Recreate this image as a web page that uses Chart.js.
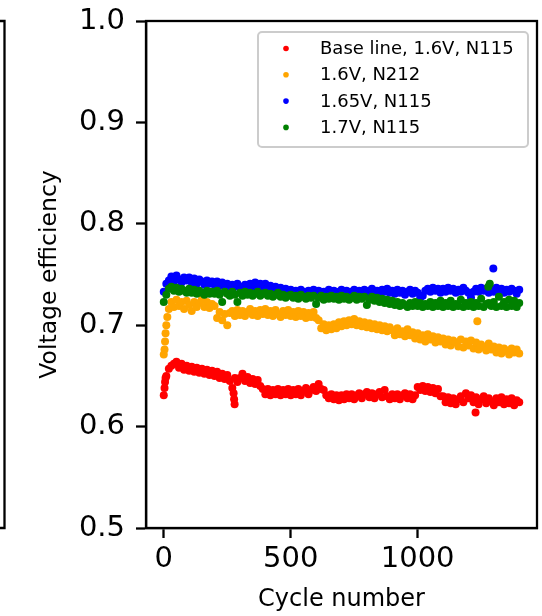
<!DOCTYPE html>
<html><head><meta charset="utf-8">
<script src="https://cdn.jsdelivr.net/npm/chart.js@4/dist/chart.umd.min.js"></script>
<style>html,body{margin:0;padding:0;background:#fff;}#wrap{position:relative;width:542px;height:616px;}</style>
</head><body><div id="wrap"><canvas id="c" width="542" height="616"></canvas></div>
<script>
// ---- data ----
const cycleStep = 10; // values below are sampled every 10 cycles, starting at cycle 0
const seriesLabels = ['Base line, 1.6V, N115', '1.6V, N212', '1.65V, N115', '1.7V, N115'];
const seriesColors = ['#ff0000', '#ffa500', '#0000ff', '#008000'];
const xTicks = [0, 500, 1000];
const yTicks = [0.5, 0.6, 0.7, 0.8, 0.9, 1.0];

const baseLine = [
 0.631,0.650,0.657,0.660,0.662,0.664,0.658,0.662,0.656,0.660,
 0.655,0.659,0.654,0.658,0.653,0.657,0.652,0.656,0.651,0.655,
 0.650,0.654,0.648,0.652,0.647,0.651,0.645,0.638,0.648,0.644,
 0.648,0.652,0.645,0.649,0.643,0.647,0.642,0.646,0.640,0.637,
 0.632,0.637,0.631,0.636,0.632,0.637,0.631,0.636,0.632,0.637,
 0.631,0.636,0.632,0.637,0.631,0.635,0.638,0.632,0.636,0.639,
 0.635,0.642,0.637,0.636,0.631,0.628,0.632,0.627,0.631,0.626,
 0.631,0.627,0.632,0.628,0.632,0.627,0.631,0.633,0.628,0.632,
 0.634,0.629,0.633,0.628,0.632,0.634,0.629,0.636,0.630,0.627,
 0.632,0.628,0.632,0.627,0.631,0.633,0.628,0.632,0.627,0.631,
 0.639,0.636,0.640,0.635,0.639,0.634,0.638,0.633,0.637,0.630,
 0.630,0.624,0.629,0.623,0.628,0.622,0.627,0.630,0.624,0.633,
 0.628,0.631,0.624,0.629,0.622,0.627,0.630,0.623,0.628,0.625,
 0.621,0.628,0.624,0.629,0.622,0.627,0.623,0.628,0.621,0.626,
 0.624];
const baseLineExtra = [[3,0.638],[5,0.644],[7,0.648],[275,0.633],[277,0.627],[279,0.622],[1228,0.614]];

const v160N212 = [
 0.671,0.700,0.716,0.723,0.718,0.725,0.719,0.723,0.716,0.724,
 0.720,0.714,0.723,0.718,0.722,0.725,0.718,0.723,0.717,0.721,
 0.719,0.707,0.713,0.705,0.711,0.700,0.712,0.714,0.709,0.715,
 0.710,0.714,0.709,0.713,0.716,0.710,0.714,0.709,0.715,0.711,
 0.716,0.710,0.714,0.709,0.715,0.711,0.708,0.714,0.710,0.715,
 0.709,0.713,0.708,0.714,0.709,0.713,0.707,0.712,0.708,0.713,
 0.707,0.705,0.697,0.701,0.695,0.700,0.696,0.701,0.697,0.703,
 0.699,0.704,0.700,0.705,0.701,0.706,0.700,0.704,0.699,0.703,
 0.698,0.702,0.697,0.701,0.696,0.700,0.695,0.699,0.694,0.698,
 0.695,0.690,0.697,0.691,0.694,0.689,0.696,0.690,0.693,0.687,
 0.692,0.686,0.690,0.684,0.691,0.686,0.689,0.683,0.688,0.684,
 0.687,0.681,0.686,0.680,0.685,0.683,0.679,0.686,0.678,0.684,
 0.680,0.685,0.677,0.683,0.676,0.681,0.678,0.675,0.682,0.676,
 0.679,0.673,0.678,0.672,0.677,0.675,0.671,0.677,0.673,0.676,
 0.672];
const v160N212Extra = [[3,0.676],[5,0.684],[7,0.692],[14,0.708],[1235,0.704]];

const v165N115 = [
 0.733,0.741,0.744,0.748,0.743,0.749,0.745,0.742,0.747,0.744,
 0.747,0.742,0.746,0.741,0.745,0.743,0.740,0.744,0.741,0.743,
 0.740,0.743,0.739,0.742,0.738,0.741,0.737,0.740,0.738,0.741,
 0.738,0.736,0.740,0.737,0.741,0.738,0.742,0.739,0.741,0.738,
 0.741,0.737,0.739,0.736,0.738,0.735,0.737,0.734,0.736,0.733,
 0.735,0.732,0.734,0.731,0.735,0.733,0.730,0.734,0.732,0.735,
 0.731,0.734,0.730,0.733,0.731,0.735,0.732,0.734,0.730,0.733,
 0.735,0.731,0.734,0.730,0.733,0.735,0.731,0.734,0.732,0.735,
 0.731,0.734,0.736,0.732,0.734,0.731,0.735,0.733,0.736,0.732,
 0.734,0.731,0.735,0.732,0.734,0.730,0.733,0.735,0.731,0.734,
 0.732,0.727,0.729,0.734,0.736,0.733,0.737,0.734,0.736,0.732,
 0.736,0.733,0.737,0.734,0.736,0.732,0.735,0.733,0.737,0.734,
 0.732,0.727,0.733,0.736,0.733,0.737,0.734,0.736,0.732,0.735,
 0.733,0.737,0.734,0.736,0.732,0.735,0.733,0.736,0.734,0.731,
 0.735];
const v165N115Extra = [[1298,0.756]];

const v170N115 = [
 0.723,0.730,0.736,0.738,0.734,0.737,0.733,0.736,0.734,0.732,
 0.736,0.732,0.735,0.731,0.734,0.732,0.730,0.734,0.731,0.733,
 0.731,0.734,0.730,0.723,0.733,0.731,0.729,0.733,0.730,0.723,
 0.732,0.729,0.733,0.730,0.732,0.729,0.731,0.733,0.729,0.731,
 0.732,0.729,0.731,0.728,0.730,0.732,0.728,0.730,0.727,0.729,
 0.730,0.727,0.729,0.726,0.730,0.728,0.726,0.729,0.727,0.729,
 0.721,0.727,0.729,0.725,0.728,0.726,0.729,0.726,0.728,0.725,
 0.729,0.726,0.728,0.725,0.727,0.729,0.725,0.728,0.726,0.728,
 0.720,0.725,0.728,0.724,0.727,0.723,0.726,0.722,0.725,0.721,
 0.724,0.720,0.723,0.719,0.722,0.720,0.718,0.722,0.719,0.723,
 0.719,0.722,0.718,0.721,0.719,0.723,0.718,0.722,0.719,0.724,
 0.718,0.722,0.719,0.724,0.718,0.721,0.719,0.725,0.718,0.722,
 0.719,0.723,0.718,0.722,0.719,0.726,0.718,0.721,0.722,0.719,
 0.723,0.718,0.728,0.719,0.723,0.718,0.725,0.719,0.724,0.718,
 0.722];
const v170N115Extra = [[1278,0.738],[1284,0.741]];

// ---- build ----
function toPoints(vals, extra) {
  const pts = vals.map((v, i) => ({x: i * cycleStep, y: v}));
  extra.forEach(p => pts.push({x: p[0], y: p[1]}));
  return pts;
}
const allSeries = [
  toPoints(baseLine, baseLineExtra),
  toPoints(v160N212, v160N212Extra),
  toPoints(v165N115, v165N115Extra),
  toPoints(v170N115, v170N115Extra)
];
const FONT = "'DejaVu Sans', sans-serif";
const datasets = allSeries.map((pts, i) => ({
  label: seriesLabels[i],
  data: pts,
  backgroundColor: seriesColors[i],
  borderColor: seriesColors[i],
  borderWidth: 0,
  pointRadius: 4,
  pointHoverRadius: 4,
  order: 3 - i
}));

const framePlugin = {
  id: 'frame',
  afterDraw(chart) {
    const {ctx, chartArea: a} = chart;
    ctx.save();
    ctx.strokeStyle = '#000';
    ctx.lineWidth = 2.3;
    ctx.strokeRect(a.left, a.top, a.right - a.left, a.bottom - a.top);
    // edge of neighbouring panel at the far left
    ctx.beginPath();
    ctx.moveTo(0, a.top); ctx.lineTo(4.5, a.top); ctx.lineTo(4.5, a.bottom); ctx.lineTo(0, a.bottom);
    ctx.stroke();
    ctx.restore();
  }
};

const legendPlugin = {
  id: 'boxLegend',
  afterDraw(chart) {
    const {ctx, chartArea: a} = chart;
    const w = 270, h = 115;
    const x0 = a.right - 9 - w, y0 = a.top + 11;
    ctx.save();
    ctx.beginPath();
    ctx.roundRect(x0, y0, w, h, 4);
    ctx.fillStyle = 'rgba(255,255,255,0.8)';
    ctx.fill();
    ctx.strokeStyle = '#cccccc';
    ctx.lineWidth = 2;
    ctx.stroke();
    ctx.font = "18px " + FONT;
    ctx.textBaseline = 'middle';
    ctx.textAlign = 'left';
    chart.data.datasets.forEach((ds, i) => {
      const ry = y0 + 16.5 + i * 26.3;
      ctx.beginPath();
      ctx.arc(x0 + 28, ry, 2.8, 0, Math.PI * 2);
      ctx.fillStyle = ds.backgroundColor;
      ctx.fill();
      ctx.fillStyle = '#000';
      ctx.fillText(ds.label, x0 + 62, ry + 1);
    });
    ctx.restore();
  }
};

new Chart(document.getElementById('c'), {
  type: 'scatter',
  data: {datasets},
  options: {
    responsive: false,
    animation: false,
    devicePixelRatio: 1,
    layout: {autoPadding: false, padding: {left: 0, right: 5, top: 21, bottom: 0}},
    plugins: {legend: {display: false}, tooltip: {enabled: false}},
    scales: {
      x: {
        type: 'linear', min: -70, max: 1470,
        afterBuildTicks: s => { s.ticks = xTicks.map(v => ({value: v})); },
        afterFit: s => { s.height = 88; s.paddingLeft = 0; s.paddingRight = 0; },
        grid: {display: true, drawOnChartArea: false, drawTicks: true, tickLength: 10, tickWidth: 2.3, tickColor: '#000'},
        border: {display: true, color: '#000', width: 2.3},
        ticks: {color: '#000', font: {family: FONT, size: 29}, padding: 4, maxRotation: 0, autoSkip: false, callback: v => String(v)},
        title: {display: true, text: 'Cycle number', color: '#000', font: {family: FONT, size: 24}, padding: {top: 0, bottom: 2}}
      },
      y: {
        type: 'linear', min: 0.5, max: 1.0,
        afterBuildTicks: s => { s.ticks = yTicks.map(v => ({value: v})); },
        afterFit: s => { s.width = 146; s.paddingTop = 0; s.paddingBottom = 0; },
        grid: {display: true, drawOnChartArea: false, drawTicks: true, tickLength: 10, tickWidth: 2.3, tickColor: '#000'},
        border: {display: true, color: '#000', width: 2.3},
        ticks: {color: '#000', font: {family: FONT, size: 29}, padding: 11, autoSkip: false, callback: v => Number(v).toFixed(1)},
        title: {display: true, text: 'Voltage efficiency', color: '#000', font: {family: FONT, size: 23.5}, padding: {top: 36, bottom: 0}}
      }
    }
  },
  plugins: [framePlugin, legendPlugin]
});
</script>
</body></html>
